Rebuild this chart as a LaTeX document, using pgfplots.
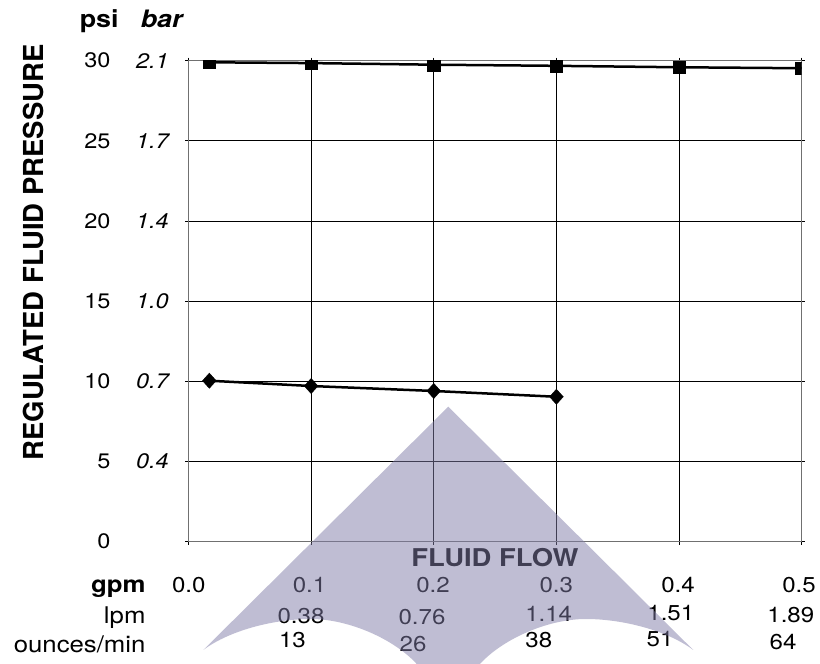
\documentclass[border=0pt]{standalone}
\usepackage{pgfplots}
\pgfplotsset{compat=1.18}
\usepackage{fontspec}
\setmainfont{TeX Gyre Heros}[FakeStretch=1.12]
\newfontfamily\plainfont{TeX Gyre Heros}
\definecolor{framegray}{HTML}{707070}
\definecolor{spray}{RGB}{128,124,167}

% regulated pressure vs flow, upper curve (square) and lower curve (diamond)
\pgfplotstableread{
gpm    psi
0.017  29.90
0.1    29.85
0.2    29.75
0.3    29.68
0.4    29.59
0.5    29.53
}\highset
\pgfplotstableread{
gpm    psi
0.017  10.04
0.1    9.71
0.2    9.40
0.3    9.04
}\lowset

\begin{document}
\begin{tikzpicture}
\useasboundingbox (-188.5pt,-122.3pt) rectangle (631.5pt,541.7pt);
\clip (-188.5pt,-122.3pt) rectangle (631.5pt,541.7pt);
\begin{axis}[
    at={(0pt,0pt)}, anchor=south west,
    width=613.2pt, height=481pt, scale only axis,
    xmin=0, xmax=0.5, ymin=0, ymax=30,
    xtick={0,0.1,0.2,0.3,0.4,0.5},
    ytick={0,5,10,15,20,25,30},
    xticklabels={}, yticklabels={},
    grid=major, grid style={black, line width=1pt},
    axis line style={framegray, line width=1pt},
    tick align=outside, major tick length=3pt,
    tick style={black, line width=1pt},
    clip marker paths=true,
]
\addplot[black, line width=2.5pt, mark=square*,
    mark options={solid, fill=black, line width=0.4pt}, mark size=6.2pt]
    table[x=gpm, y=psi] {\highset};
\addplot[black, line width=2.5pt, mark=diamond*,
    mark options={solid, fill=black, line width=0.4pt, xscale=1.2}, mark size=7.6pt]
    table[x=gpm, y=psi] {\lowset};
\end{axis}

% labels in picture pixels (origin top left, y down)
\begin{scope}[x=1pt, y=-1pt, shift={(-188.5pt,541.7pt)}]
\node[anchor=base, inner sep=0, font=\fontsize{24}{28}\selectfont\bfseries] at (99.2,27.3) {psi};
\node[anchor=base, inner sep=0, font=\fontsize{24}{28}\selectfont\bfseries\itshape] at (161.7,27.3) {bar};

\foreach \yy/\p in {60.7/30, 140.9/25, 221.1/20, 301.2/15, 381.4/10, 461.5/5, 541.7/0}
  \node[anchor=east, inner sep=0, font=\fontsize{21}{25}\selectfont] at (110.7,\yy) {\p};
\foreach \yy/\bv in {60.7/2.1, 140.9/1.7, 221.1/1.4, 301.2/1.0, 381.4/0.7, 461.5/0.4}
  \node[anchor=east, inner sep=0, font=\fontsize{21}{25}\selectfont\itshape] at (169,\yy) {\bv};

\node[rotate=90, inner sep=0, font=\plainfont\fontsize{27.5}{32}\selectfont\bfseries] at (33,252.5) {REGULATED FLUID PRESSURE};

\node[anchor=base, inner sep=0, font=\fontsize{24.5}{29}\selectfont\bfseries] at (495,566.7) {FLUID FLOW};

\node[anchor=base east, inner sep=0, font=\fontsize{23}{27}\selectfont\bfseries] at (145.7,593) {gpm};
\node[anchor=base east, inner sep=0, font=\fontsize{23}{27}\selectfont] at (145.7,623.5) {lpm};
\node[anchor=base east, inner sep=0, font=\fontsize{23}{27}\selectfont] at (145.7,653) {ounces/min};

\foreach \xx/\gv in {188.8/0.0, 309.5/0.1, 433/0.2, 556.3/0.3, 678/0.4, 799/0.5}
  \node[anchor=base, inner sep=0, font=\fontsize{21.5}{25}\selectfont] at (\xx,593) {\gv};
\foreach \xx/\yy/\lv in {301/623.3/0.38, 422/625/0.76, 548.7/622/1.14, 670.8/620.5/1.51, 790.8/622.7/1.89}
  \node[anchor=base, inner sep=0, font=\fontsize{21.5}{25}\selectfont] at (\xx,\yy) {\lv};
\foreach \xx/\yy/\ov in {292.5/648/13, 413/651.7/26, 538.8/648/38, 660/646.7/51, 783/650/64}
  \node[anchor=base, inner sep=0, font=\fontsize{21.5}{25}\selectfont] at (\xx,\yy) {\ov};

% translucent spray fan over the lower part
\fill[spray, opacity=0.5] (203.3,650) -- (448.3,406.7) -- (693.3,650)
  .. controls (666.6,630) and (621.6,619) .. (586,619)
  .. controls (546.6,619) and (501.6,640) .. (480,664)
  -- (483,700) -- (413.6,700) -- (416.7,664)
  .. controls (395,640) and (350,619) .. (310.6,619)
  .. controls (275,619) and (230,630) .. (203.3,650) -- cycle;
\end{scope}
\end{tikzpicture}
\end{document}
